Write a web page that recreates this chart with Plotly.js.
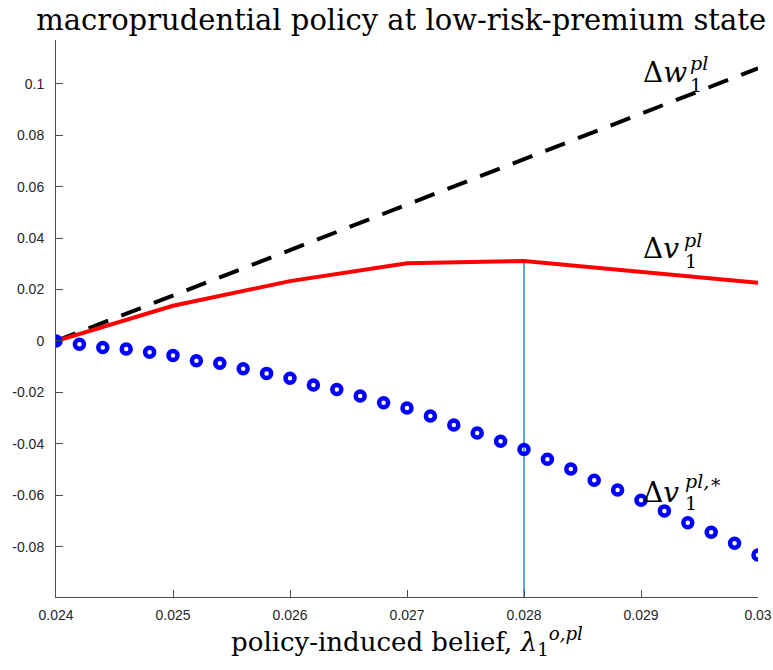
<!DOCTYPE html>
<html>
<head>
<meta charset="utf-8">
<script src="https://cdn.plot.ly/plotly-3.0.1.min.js"></script>
<style>html,body{margin:0;padding:0;background:#fff;}#chart{width:773px;height:670px;}</style>
</head>
<body>
<div id="chart"></div>
<script>
// x grid of the two line series
const lineX = [0.024, 0.025, 0.026, 0.027, 0.028, 0.029, 0.030];
// Δw_1^pl (black dashed)
const deltaW = [0, 0.0177, 0.0354, 0.0531, 0.0708, 0.0885, 0.1061];
// Δv_1^pl (red solid)
const deltaV = [0, 0.0137, 0.0233, 0.0302, 0.0311, 0.0270, 0.0227];
// Δv_1^{pl,*} (blue circles)
const starX = [0.0240, 0.0242, 0.0244, 0.0246, 0.0248, 0.0250, 0.0252, 0.0254, 0.0256, 0.0258,
               0.0260, 0.0262, 0.0264, 0.0266, 0.0268, 0.0270, 0.0272, 0.0274, 0.0276, 0.0278,
               0.0280, 0.0282, 0.0284, 0.0286, 0.0288, 0.0290, 0.0292, 0.0294, 0.0296, 0.0298, 0.0300];
const deltaVStar = [0, -0.0013, -0.0025, -0.0031, -0.0044, -0.0056, -0.0077, -0.0087, -0.0108, -0.0126,
                    -0.0145, -0.0171, -0.0189, -0.0214, -0.0240, -0.0261, -0.0292, -0.0327, -0.0358, -0.0390,
                    -0.0422, -0.0460, -0.0498, -0.0542, -0.0580, -0.0620, -0.0661, -0.0707, -0.0744, -0.0787, -0.0833];
// vertical marker at the optimal belief
const optimalX = [0.028, 0.028];
const optimalY = [-0.0996, 0.0311];
// ticks
const xTickVals = [0.024, 0.025, 0.026, 0.027, 0.028, 0.029, 0.030];
const xTickText = ["0.024", "0.025", "0.026", "0.027", "0.028", "0.029", "0.03"];
const yTickVals = [-0.08, -0.06, -0.04, -0.02, 0, 0.02, 0.04, 0.06, 0.08, 0.1];
const yTickText = ["-0.08", "-0.06", "-0.04", "-0.02", "0", "0.02", "0.04", "0.06", "0.08", "0.1"];

const serif = "DejaVu Serif, Liberation Serif, serif";
const sans = "Liberation Sans, Arial, Helvetica, sans-serif";

const markerSymbols = starX.map((_, i) => i === 0 ? "circle" : "circle-open");

const traces = [
  {x: optimalX, y: optimalY, mode: "lines", line: {color: "#2f86c8", width: 1.5}, hoverinfo: "skip"},
  {x: lineX, y: deltaW, mode: "lines", line: {color: "#000000", width: 4, dash: "21px,14px"}},
  {x: lineX, y: deltaV, mode: "lines", line: {color: "#ff0000", width: 4}},
  {x: starX, y: deltaVStar, mode: "markers",
   marker: {symbol: markerSymbols, size: 9, color: "#0000ff", line: {color: "#0000ff", width: 4.5}}}
];

function lab(text, x, y, size) {
  return {text: text, xref: "paper", yref: "paper", x: x, y: y, xanchor: "left", yanchor: "middle",
          showarrow: false, font: {family: serif, size: size, color: "#000"}, borderpad: 0};
}

const annotations = [
  lab("Δ<i>w</i>", 0.8348, 0.9408, 28),
  lab("<i>pl</i>", 0.9017, 0.9587, 19),
  lab("1", 0.9017, 0.9192, 19),
  lab("Δ<i>v</i>", 0.8348, 0.6248, 28),
  lab("<i>pl</i>", 0.8932, 0.6409, 19),
  lab("1", 0.8946, 0.6032, 19),
  lab("Δ<i>v</i>", 0.8348, 0.1885, 28),
  lab("<i>pl,∗</i>", 0.8946, 0.2083, 19),
  lab("1", 0.8946, 0.1688, 19)
];

const layout = {
  width: 773, height: 670,
  margin: {l: 56, r: 15, t: 40, b: 73},
  paper_bgcolor: "#fff", plot_bgcolor: "#fff",
  showlegend: false,
  title: {text: "macroprudential policy at low-risk-premium state", font: {family: serif, size: 29, color: "#000"},
          x: 0.4917, xref: "paper", xanchor: "center", y: 0.970, yref: "container", yanchor: "middle"},
  xaxis: {range: [0.024, 0.030], showgrid: false, zeroline: false, showline: true, linecolor: "#4d4d4d", linewidth: 1,
          ticks: "inside", ticklen: 7, tickcolor: "#4d4d4d", tickvals: xTickVals, ticktext: xTickText,
          tickfont: {family: sans, size: 14, color: "#262626"}, ticklabelstandoff: 5, mirror: false,
          title: {text: "policy-induced belief, <i>λ</i><sub>1</sub><sup><i>o,pl</i></sup>", font: {family: serif, size: 26, color: "#000"}, standoff: 10}},
  yaxis: {range: [-0.0996, 0.1171], showgrid: false, zeroline: false, showline: true, linecolor: "#4d4d4d", linewidth: 1,
          ticks: "inside", ticklen: 7, tickcolor: "#4d4d4d", tickvals: yTickVals, ticktext: yTickText,
          tickfont: {family: sans, size: 14, color: "#262626"}, ticklabelstandoff: 8},
  annotations: annotations
};

Plotly.newPlot("chart", traces, layout, {displayModeBar: false, staticPlot: true});
</script>
</body>
</html>
